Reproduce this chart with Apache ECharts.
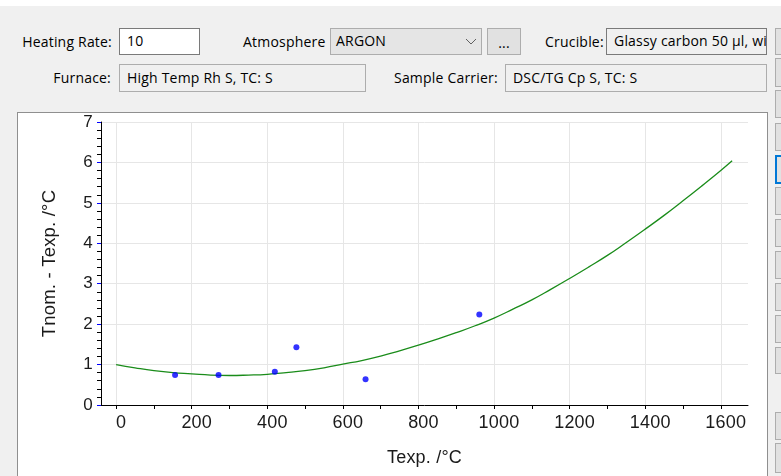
<!DOCTYPE html>
<html>
<head>
<meta charset="utf-8">
<script src="https://cdn.jsdelivr.net/npm/echarts@6/dist/echarts.min.js"></script>
<style>
  html, body { margin:0; padding:0; }
  body { width:781px; height:476px; background:#f0f0f0; position:relative; overflow:hidden;
         font-family:"Open Sans","Noto Sans",sans-serif; font-size:14px; letter-spacing:0.2px; color:#000; }
  .abs { position:absolute; box-sizing:border-box; }
  .lbl { position:absolute; white-space:nowrap; line-height:26px; height:26px; }
  .box { position:absolute; box-sizing:border-box; border:1px solid #adadad; background:#f0f0f0;
         white-space:nowrap; overflow:hidden; line-height:24px; padding-left:7px; }
  .btn { position:absolute; box-sizing:border-box; border:1px solid #adadad; background:#e1e1e1; }
  #panel { position:absolute; left:17px; top:112px; width:751px; height:380px; background:#fff;
           border:1px solid #8f8f8f; box-sizing:border-box; }
  #chart { position:absolute; left:0; top:0; width:781px; height:476px; }
</style>
</head>
<body>
<div class="abs" style="left:0;top:0;width:781px;height:6px;background:#fff"></div>

<div class="lbl" style="right:669px;top:29px">Heating Rate:</div>
<div class="box" style="left:119px;top:28px;width:81px;height:27px;background:#fff;border-color:#7a7a7a">10</div>

<div class="lbl" style="left:243px;top:29px">Atmosphere</div>
<div class="box" style="left:330px;top:28px;width:152px;height:27px;background:#e5e5e5;padding-left:5px">ARGON</div>
<svg class="abs" style="left:465px;top:38px" width="12" height="8"><polyline points="1,1 6,6 11,1" fill="none" stroke="#606060" stroke-width="1"/></svg>
<div class="btn" style="left:487px;top:28px;width:34px;height:27px;text-align:center;line-height:27px">...</div>

<div class="lbl" style="left:545px;top:29px">Crucible:</div>
<div class="box" style="left:606px;top:28px;width:161px;height:27px;border-color:#7a7a7a">Glassy carbon 50 µl, with lid</div>

<div class="lbl" style="right:670px;top:65px">Furnace:</div>
<div class="box" style="left:119px;top:64px;width:247px;height:28px;line-height:26px">High Temp Rh S, TC: S</div>

<div class="lbl" style="left:394px;top:65px">Sample Carrier:</div>
<div class="box" style="left:505px;top:64px;width:262px;height:28px;line-height:26px">DSC/TG Cp S, TC: S</div>

<div class="btn" style="left:775px;top:28px;width:20px;height:27px"></div>
<div class="btn" style="left:775px;top:58px;width:20px;height:29px"></div>
<div class="btn" style="left:775px;top:90px;width:20px;height:28px"></div>
<div class="btn" style="left:775px;top:123px;width:20px;height:28px"></div>
<div class="btn" style="left:775px;top:155px;width:20px;height:29px;border:2px solid #0078d7"></div>
<div class="btn" style="left:775px;top:187px;width:20px;height:28px"></div>
<div class="btn" style="left:775px;top:219px;width:20px;height:28px"></div>
<div class="btn" style="left:775px;top:251px;width:20px;height:28px"></div>
<div class="btn" style="left:775px;top:283px;width:20px;height:28px"></div>
<div class="btn" style="left:775px;top:315px;width:20px;height:28px"></div>
<div class="btn" style="left:775px;top:347px;width:20px;height:27px"></div>
<div class="btn" style="left:775px;top:412px;width:20px;height:28px"></div>
<div class="btn" style="left:775px;top:443px;width:20px;height:30px"></div>

<div id="panel"></div>
<div id="chart"></div>

<script>
// ---- data ----
const fitX = [0, 50, 100, 150, 200, 250, 300, 350, 400, 450, 500, 550, 600, 650, 700, 750, 800, 850,
              900, 950, 1000, 1050, 1100, 1150, 1200, 1250, 1300, 1350, 1400, 1450, 1500, 1550, 1600, 1630];
const fitY = [1.00, 0.92, 0.85, 0.80, 0.77, 0.74, 0.73, 0.74, 0.76, 0.80, 0.85, 0.92, 1.01, 1.10, 1.21, 1.34, 1.48, 1.63,
              1.79, 1.96, 2.15, 2.37, 2.60, 2.86, 3.13, 3.41, 3.70, 4.02, 4.35, 4.69, 5.05, 5.42, 5.80, 6.04];
const measX = [156, 271, 420, 477, 660, 961];
const measY = [0.74, 0.74, 0.82, 1.43, 0.64, 2.24];
const xLabelValues = [0, 200, 400, 600, 800, 1000, 1200, 1400, 1600];
const xTickValues = [0, 100, 200, 300, 400, 500, 600, 700, 800, 900, 1000, 1100, 1200, 1300, 1400, 1500, 1600];
const xName = 'Texp. /°C';
const yName = 'Tnom. - Texp. /°C';

const fitData = fitX.map((x, i) => [x, fitY[i]]);
const measData = measX.map((x, i) => [x, measY[i]]);

const chart = echarts.init(document.getElementById('chart'), null, { renderer: 'canvas' });
const FONT = '"Liberation Sans", Arial, sans-serif';
chart.setOption({
  backgroundColor: 'transparent',
  animation: false,
  textStyle: { fontFamily: FONT },
  grid: { left: 101, top: 122, right: 33, bottom: 71, containLabel: false },
  xAxis: [
    {
      type: 'value', min: -40, max: 1672, position: 'bottom',
      name: xName, nameLocation: 'middle', nameGap: 44,
      nameTextStyle: { fontSize: 18, color: '#1a1a1a', fontFamily: FONT },
      axisLine: { show: true, onZero: false, lineStyle: { color: '#000', width: 1 } },
      axisTick: { show: false, customValues: xLabelValues },
      axisLabel: { customValues: xLabelValues, fontSize: 18, color: '#1a1a1a', margin: 9,
                   padding: [0, 0, 0, 10], fontFamily: FONT, formatter: v => String(v) },
      splitLine: { show: true, lineStyle: { color: '#e6e6e6', width: 1 } }
    },
    {
      type: 'value', min: -40, max: 1672, position: 'bottom',
      axisLine: { show: false, onZero: false },
      axisTick: { show: true, customValues: xTickValues, length: 4, lineStyle: { color: '#000' } },
      axisLabel: { show: false },
      splitLine: { show: false }
    }
  ],
  yAxis: {
    type: 'value', min: 0, max: 7, interval: 1,
    name: yName, nameLocation: 'middle', nameGap: 42, nameRotate: 90,
    nameTextStyle: { fontSize: 18.5, color: '#1a1a1a', fontFamily: FONT },
    axisLine: { show: true, onZero: false, lineStyle: { color: '#000', width: 1 } },
    axisTick: { show: true, length: 4, lineStyle: { color: '#0000ff' } },
    minorTick: { show: true, splitNumber: 5, length: 4, lineStyle: { color: '#000' } },
    axisLabel: { fontSize: 17, color: '#1a1a1a', margin: 8, fontFamily: FONT },
    splitLine: { show: true, lineStyle: { color: '#e6e6e6', width: 1 } }
  },
  series: [
    {
      type: 'line', data: fitData, smooth: true, showSymbol: false, xAxisIndex: 0,
      lineStyle: { color: '#1a8c1a', width: 1.3 }, z: 2
    },
    {
      type: 'scatter', data: measData, xAxisIndex: 0, symbol: 'circle', symbolSize: 6,
      itemStyle: { color: '#0000ff' }, z: 3
    }
  ]
});
</script>
</body>
</html>
